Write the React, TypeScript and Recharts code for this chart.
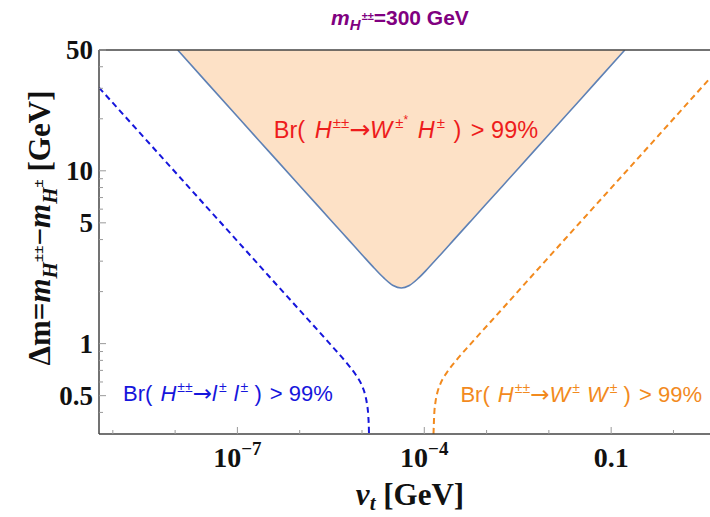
import React from 'react';
import { ComposedChart, Area, Line, XAxis, YAxis } from 'recharts';

// Δm versus v_t for m_H±± = 300 GeV: regions where one decay channel exceeds 99%

// Br(H±± → W±* H±) > 99% boundary (shaded above)
const wStarVt = [
  1.1e-8, 3.16e-8, 1e-7, 3.16e-7, 1e-6, 3.16e-6, 6.31e-6, 1e-5, 1.58e-5, 2.24e-5, 3.16e-5, 4.27e-5,
  5.75e-5, 8.13e-5, 1.15e-4, 1.82e-4, 2.88e-4, 5.75e-4, 1.82e-3, 5.75e-3, 1.82e-2, 5.75e-2, 0.166,
];
const wStarDm = [
  50, 32.7, 20.6, 13.0, 8.2, 5.18, 3.93, 3.27, 2.73, 2.4, 2.17, 2.1,
  2.17, 2.4, 2.73, 3.27, 3.93, 5.18, 8.2, 13.0, 20.6, 32.7, 50,
];

// Br(H±± → l± l±) > 99% boundary
const leptonVt = [
  6e-10, 3.16e-9, 1e-8, 3.16e-8, 1e-7, 3.16e-7, 1e-6, 3.16e-6, 5.62e-6, 7.94e-6, 1e-5, 1.12e-5,
  1.2e-5, 1.26e-5, 1.29e-5, 1.296e-5,
];
const leptonDm = [
  30.3, 15.6, 9.84, 6.21, 3.92, 2.47, 1.56, 0.984, 0.776, 0.661, 0.571, 0.508,
  0.45, 0.385, 0.322, 0.3,
];

// Br(H±± → W± W±) > 99% boundary
const wwVt = [
  1.406e-4, 1.445e-4, 1.514e-4, 1.622e-4, 1.82e-4, 2.29e-4, 3.24e-4, 5.75e-4, 1.82e-3, 5.75e-3,
  1.82e-2, 5.75e-2, 0.182, 0.575, 1.82, 5,
];
const wwDm = [
  0.3, 0.391, 0.46, 0.521, 0.587, 0.679, 0.798, 1.01, 1.6, 2.54,
  4.03, 6.38, 10.1, 16.0, 25.4, 38.1,
];

// axis ticks
const X_DOMAIN = [6e-10, 5];
const Y_DOMAIN = [0.3, 50];
const X_TICKS = [1e-9, 1e-8, 1e-7, 1e-6, 1e-5, 1e-4, 1e-3, 1e-2, 0.1, 1];
const X_MAJOR = [1e-7, 1e-4, 0.1];
const X_MAJOR_BASE = ['10', '10', '0.1'];
const X_MAJOR_EXP = ['−7', '−4', ''];
const Y_TICKS = [0.4, 0.5, 0.6, 0.7, 0.8, 0.9, 1, 2, 3, 4, 5, 6, 7, 8, 9, 10, 20, 30, 40, 50];
const Y_MAJOR = [0.5, 1, 5, 10, 50];
const Y_MAJOR_LABELS = ['0.5', '1', '5', '10', '50'];

const zip = (xs: number[], ys: number[]) => xs.map((x, i) => ({ x, y: ys[i] }));
const wStarData = zip(wStarVt, wStarDm);
const leptonData = zip(leptonVt, leptonDm);
const wwData = zip(wwVt, wwDm);

const SERIF = '"Liberation Serif", "Times New Roman", serif';
const SANS = '"Liberation Sans", Arial, Helvetica, sans-serif';
const ARROW_FONT = '"DejaVu Sans", sans-serif';
const FRAME = '#444';
const TICK = '#9a9a9a';

const findMajor = (list: number[], v: number) =>
  list.findIndex(m => Math.abs(Math.log10(m) - Math.log10(v)) < 1e-6);

const XTick = (props: any) => {
  const { x, y, payload, side } = props;
  const idx = findMajor(X_MAJOR, payload.value);
  const len = idx >= 0 ? 7 : 4;
  const dir = side === 'top' ? 1 : -1;
  return (
    <g>
      <line x1={x} x2={x} y1={y} y2={y + dir * len} stroke={TICK} strokeWidth={1} />
      {side === 'bottom' && idx >= 0 && (
        <text x={x} y={y + 33} textAnchor="middle" fontFamily={SERIF} fontWeight="bold" fontSize={28} fill="#111">
          {X_MAJOR_BASE[idx]}
          {X_MAJOR_EXP[idx] && (
            <tspan dy={-12} fontSize={19}>
              {X_MAJOR_EXP[idx]}
            </tspan>
          )}
        </text>
      )}
    </g>
  );
};

const YTick = (props: any) => {
  const { x, y, payload } = props;
  const idx = findMajor(Y_MAJOR, payload.value);
  const len = idx >= 0 ? 7 : 4;
  return (
    <g>
      <line x1={x} x2={x + len} y1={y} y2={y} stroke={TICK} strokeWidth={1} />
      {idx >= 0 && (
        <text x={x - 6} y={y + 9} textAnchor="end" fontFamily={SERIF} fontWeight="bold" fontSize={27} fill="#111">
          {Y_MAJOR_LABELS[idx]}
        </text>
      )}
    </g>
  );
};

// "Br( H±± → X± Y± ) > 99%" with superscripted charges
const BrLabel = (props: { x: number; y: number; anchor: string; color: string; a: string; b: string }) => {
  const { x, y, anchor, color, a, b } = props;
  return (
    <text x={x} y={y} textAnchor={anchor} fontFamily={SANS} fontSize={22} fill={color}>
      Br(
      <tspan fontStyle="italic" dx={2}> H</tspan>
      <tspan fontSize={14} dy={-9} dx={1}>±±</tspan>
      <tspan fontFamily={ARROW_FONT} fontSize={23} dy={9}>→</tspan>
      <tspan fontStyle="italic">{a}</tspan>
      <tspan fontSize={14} dy={-9} dx={2}>±</tspan>
      <tspan fontStyle="italic" dy={9} dx={1}> {b}</tspan>
      <tspan fontSize={14} dy={-9} dx={2}>±</tspan>
      <tspan dy={9}> ) </tspan>
      <tspan dx={2}>&gt; 99%</tspan>
    </text>
  );
};

const Overlay = () => (
  <svg
    width={730}
    height={517}
    style={{ position: 'absolute', left: 0, top: 0, pointerEvents: 'none' }}
  >
    {/* title */}
    <text x={400} y={25} textAnchor="middle" fontFamily={SANS} fontWeight="bold" fontSize={21} fill="#800080">
      <tspan fontStyle="italic">m</tspan>
      <tspan fontStyle="italic" fontSize={15} dy={5}>H</tspan>
      <tspan fontSize={11} dy={-10} dx={1}>±±</tspan>
      <tspan fontSize={21} dy={5}>=300 GeV</tspan>
    </text>

    {/* y axis title */}
    <text
      transform="translate(50,228) rotate(-90)"
      textAnchor="middle"
      fontFamily={SERIF}
      fontWeight="bold"
      fontSize={31}
      fill="#111"
    >
      Δm=
      <tspan fontStyle="italic">m</tspan>
      <tspan fontStyle="italic" fontSize={21} dy={7}>H</tspan>
      <tspan fontSize={15} dy={-14}>±±</tspan>
      <tspan fontSize={31} dy={7}>−</tspan>
      <tspan fontStyle="italic">m</tspan>
      <tspan fontStyle="italic" fontSize={21} dy={7}>H</tspan>
      <tspan fontSize={15} dy={-14}>±</tspan>
      <tspan fontSize={31} dy={7}> [GeV]</tspan>
    </text>

    {/* x axis title */}
    <text x={410} y={505} textAnchor="middle" fontFamily={SERIF} fontWeight="bold" fontSize={31} fill="#111">
      <tspan fontStyle="italic">v</tspan>
      <tspan fontStyle="italic" fontSize={21} dy={5}>t</tspan>
      <tspan fontSize={31} dy={-5}> [GeV]</tspan>
    </text>

    {/* channel labels */}
    <text x={406} y={138} textAnchor="middle" fontFamily={SANS} fontSize={23.5} fill="#ee1c1c">
      Br(
      <tspan fontStyle="italic" dx={3}> H</tspan>
      <tspan fontSize={15} dy={-10} dx={1}>±±</tspan>
      <tspan fontFamily={ARROW_FONT} fontSize={25} dy={10}>→</tspan>
      <tspan fontStyle="italic">W</tspan>
      <tspan fontSize={15} dy={-10} dx={3}>±</tspan>
      <tspan fontSize={12} dy={-4}>*</tspan>
      <tspan fontStyle="italic" dy={14} dx={3}> H</tspan>
      <tspan fontSize={15} dy={-10} dx={2}>±</tspan>
      <tspan dy={10} dx={2}> ) </tspan>
      <tspan dx={3}>&gt; 99%</tspan>
    </text>

    <BrLabel x={123} y={401} anchor="start" color="#1616dc" a="l" b="l" />
    <BrLabel x={702} y={402} anchor="end" color="#f28a1e" a="W" b="W" />
  </svg>
);

const App: React.FC = () => {
  return (
    <div style={{ position: 'relative', width: 730, height: 517, background: '#fff' }}>
      <style>{'body{margin:0;overflow:hidden;background:#fff}'}</style>
      <ComposedChart width={730} height={517} margin={{ top: 40, right: 13, bottom: 53, left: 39 }}>
        <XAxis
          dataKey="x"
          type="number"
          scale="log"
          domain={X_DOMAIN}
          allowDataOverflow
          ticks={X_TICKS}
          interval={0}
          height={30}
          tickSize={0}
          tickMargin={0}
          tickLine={false}
          axisLine={{ stroke: FRAME, strokeWidth: 1.5 }}
          tick={(p: any) => <XTick {...p} side="bottom" />}
        />
        <XAxis
          xAxisId="top"
          orientation="top"
          type="number"
          scale="log"
          domain={X_DOMAIN}
          allowDataOverflow
          ticks={X_TICKS}
          interval={0}
          height={10}
          tickSize={0}
          tickMargin={0}
          tickLine={false}
          axisLine={{ stroke: FRAME, strokeWidth: 1.5 }}
          tick={(p: any) => <XTick {...p} side="top" />}
        />
        <YAxis
          type="number"
          scale="log"
          domain={Y_DOMAIN}
          allowDataOverflow
          ticks={Y_TICKS}
          interval={0}
          width={60}
          tickSize={0}
          tickMargin={0}
          tickLine={false}
          axisLine={{ stroke: FRAME, strokeWidth: 1.5 }}
          tick={(p: any) => <YTick {...p} />}
        />
        <Area
          data={wStarData}
          dataKey="y"
          type="monotone"
          baseValue="dataMax"
          fill="#fde1c6"
          fillOpacity={1}
          stroke="#5e81b5"
          strokeWidth={1.6}
          dot={false}
          activeDot={false}
          isAnimationActive={false}
        />
        <Line
          data={leptonData}
          dataKey="y"
          type="monotone"
          stroke="#1616dc"
          strokeWidth={2}
          strokeDasharray="6 4"
          dot={false}
          activeDot={false}
          isAnimationActive={false}
        />
        <Line
          data={wwData}
          dataKey="y"
          type="monotone"
          stroke="#f28a1e"
          strokeWidth={2}
          strokeDasharray="6 4"
          dot={false}
          activeDot={false}
          isAnimationActive={false}
        />
      </ComposedChart>
      <Overlay />
    </div>
  );
};

export default App;
